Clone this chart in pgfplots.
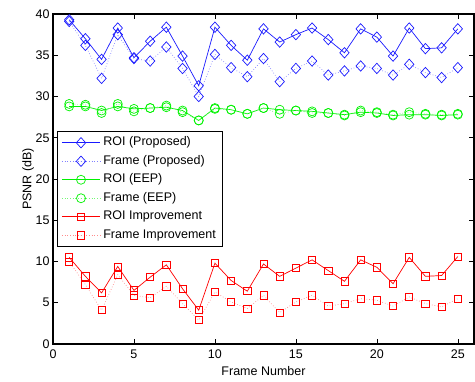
\documentclass[border=0pt]{standalone}
\usepackage{pgfplots}
\pgfplotsset{compat=1.18}
\usepackage{fontspec}
\setmainfont{Liberation Sans}
\usetikzlibrary{calc}
\definecolor{mblue}{rgb}{0.1,0.1,1}
\definecolor{mgreen}{rgb}{0,0.95,0}
\definecolor{mred}{rgb}{1,0,0}
\begin{document}
\begin{tikzpicture}
\begin{axis}[
  scale only axis, width=421pt, height=330pt,
  xmin=0, xmax=26, ymin=0, ymax=40,
  xtick={0,5,...,25}, ytick={0,5,...,40},
  tick align=inside, tick pos=both,
  major tick length=5pt,
  axis line style={line width=1.1pt, black},
  every tick/.style={black, line width=0.6pt},
  font=\fontsize{12.5}{15}\selectfont,
  /pgf/number format/assume math mode=true,
  xticklabel style={yshift=-2pt},
  xlabel={Frame Number}, ylabel={PSNR (dB)},
  xlabel style={at={(axis description cs:0.5,-0.083)}, anchor=center},
  ylabel style={at={(axis description cs:-0.059,0.5)}, anchor=center},
  legend cell align=left,
  legend image code/.code={\draw[mark repeat=2,mark phase=2,#1] plot coordinates {(0pt,0pt) (19pt,0pt) (38pt,0pt)};},
  legend style={at={(axis cs:0.25,25.8)}, anchor=north west, draw=black, line width=1.2pt, fill=white,
    inner xsep=4pt, inner ysep=3pt, row sep=2.5pt,
    font=\fontsize{12.5}{15}\selectfont,
    nodes={inner xsep=3pt, inner ysep=2pt, text height=9pt, text depth=3pt}},
]
\addplot[mblue, line width=0.7pt, mark=diamond, mark size=5.2pt, mark options={solid, xscale=1.2, line width=0.7pt}] coordinates {
(1,39.3) (2,37.0) (3,34.5) (4,38.3) (5,34.7) (6,36.7) (7,38.4) (8,34.9) (9,31.3) (10,38.4)
(11,36.2) (12,34.4) (13,38.2) (14,36.6) (15,37.5) (16,38.3) (17,36.9) (18,35.3) (19,38.2) (20,37.2)
(21,34.9) (22,38.3) (23,35.8) (24,35.9) (25,38.2)};
\addlegendentry{ROI (Proposed)}
\addplot[mblue!55, line width=0.7pt, dotted, mark=diamond, mark size=5.2pt, mark options={solid, draw=mblue, xscale=1.2, line width=0.7pt}] coordinates {
(1,39.1) (2,36.2) (3,32.2) (4,37.5) (5,34.6) (6,34.3) (7,36.0) (8,33.4) (9,30.0) (10,35.1)
(11,33.5) (12,32.4) (13,34.6) (14,31.8) (15,33.4) (16,34.3) (17,32.6) (18,33.1) (19,33.7) (20,33.4)
(21,32.6) (22,33.9) (23,32.9) (24,32.3) (25,33.5)};
\addlegendentry{Frame (Proposed)}
\addplot[mgreen, line width=0.7pt, mark=o, mark size=4.5pt, mark options={solid, line width=0.7pt}] coordinates {
(1,28.8) (2,28.8) (3,28.3) (4,28.8) (5,28.5) (6,28.6) (7,28.7) (8,28.3) (9,27.1) (10,28.6)
(11,28.4) (12,27.9) (13,28.6) (14,28.4) (15,28.3) (16,28.2) (17,28.0) (18,27.8) (19,28.1) (20,28.0)
(21,27.7) (22,27.8) (23,27.8) (24,27.7) (25,27.8)};
\addlegendentry{ROI (EEP)}
\addplot[mgreen!55, line width=0.7pt, dotted, mark=o, mark size=4.5pt, mark options={solid, draw=mgreen, line width=0.7pt}] coordinates {
(1,29.1) (2,29.0) (3,28.0) (4,29.1) (5,28.2) (6,28.6) (7,28.9) (8,28.1) (9,27.1) (10,28.5)
(11,28.4) (12,27.9) (13,28.6) (14,27.9) (15,28.3) (16,28.0) (17,28.0) (18,27.7) (19,28.3) (20,28.1)
(21,27.8) (22,28.1) (23,27.9) (24,27.8) (25,27.9)};
\addlegendentry{Frame (EEP)}
\addplot[mred, line width=0.7pt, mark=square, mark size=3.6pt, mark options={solid, line width=0.7pt}] coordinates {
(1,10.5) (2,8.2) (3,6.2) (4,9.4) (5,6.5) (6,8.1) (7,9.6) (8,6.7) (9,4.1) (10,9.8)
(11,7.7) (12,6.4) (13,9.7) (14,8.2) (15,9.2) (16,10.2) (17,8.9) (18,7.6) (19,10.2) (20,9.3)
(21,7.3) (22,10.5) (23,8.2) (24,8.3) (25,10.6)};
\addlegendentry{ROI Improvement}
\addplot[mred!45, line width=0.7pt, dotted, mark=square, mark size=3.6pt, mark options={solid, draw=mred, line width=0.7pt}] coordinates {
(1,10.0) (2,7.2) (3,4.1) (4,8.4) (5,5.9) (6,5.6) (7,7.0) (8,4.9) (9,2.9) (10,6.3)
(11,5.1) (12,4.3) (13,5.9) (14,3.8) (15,5.1) (16,5.9) (17,4.6) (18,4.9) (19,5.5) (20,5.3)
(21,4.6) (22,5.7) (23,4.9) (24,4.5) (25,5.5)};
\addlegendentry{Frame Improvement}
\end{axis}
\pgfresetboundingbox
\path ($(current axis.south west)+(-53pt,-37pt)$) rectangle ($(current axis.north east)+(1pt,14pt)$);
\end{tikzpicture}
\end{document}
